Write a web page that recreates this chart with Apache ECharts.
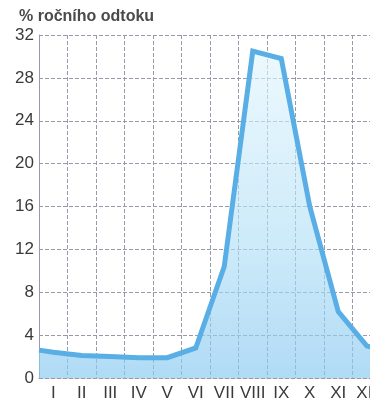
<!DOCTYPE html>
<html>
<head>
<meta charset="utf-8">
<script src="https://cdn.jsdelivr.net/npm/echarts@6/dist/echarts.min.js"></script>
<style>
html,body{margin:0;padding:0;background:#fff;overflow:hidden;width:370px;height:402px;}
#c{width:381px;height:402px;}
</style>
</head>
<body>
<div id="c"></div>
<script>
// Months (Roman numerals) and % of annual runoff
var months = ['I','II','III','IV','V','VI','VII','VIII','IX','X','XI','XII'];
var runoff = [2.4, 2.1, 2.0, 1.9, 1.9, 2.8, 10.4, 30.5, 29.8, 16.0, 6.2, 3.0];
// line values where it meets the left and right edges of the plot
var edgeLeft = 2.6;
var edgeRight = 2.6;
var yTicks = [0, 4, 8, 12, 16, 20, 24, 28, 32];
var title = '% ročního odtoku';

var pts = [[0, edgeLeft]];
for (var i = 0; i < months.length; i++) pts.push([i + 0.5, runoff[i]]);
pts.push([months.length, edgeRight]);

var chart = echarts.init(document.getElementById('c'), null, {renderer: 'canvas'});
var font = '"Liberation Sans", Arial, sans-serif';
var gridColor = '#969bab';
chart.setOption({
  animation: false,
  title: {
    text: title, left: 14, top: 4,
    textStyle: {fontFamily: font, fontSize: 16, fontWeight: 'bold', color: '#4a4a4a'}
  },
  grid: {left: 39, top: 35, right: 0, bottom: 24},
  xAxis: [{
    type: 'category', data: months, boundaryGap: true,
    axisLine: {show: true, lineStyle: {color: gridColor, type: 'dashed', width: 1}},
    axisTick: {show: false},
    axisLabel: {fontFamily: font, fontSize: 17, color: '#3a3a3a', margin: 7, interval: 0},
    splitLine: {show: true, interval: 0, lineStyle: {color: gridColor, type: 'dashed', width: 1}}
  }, {
    type: 'value', min: 0, max: months.length, show: false
  }],
  yAxis: {
    type: 'value', min: yTicks[0], max: yTicks[yTicks.length - 1], interval: 4,
    axisLine: {show: true, lineStyle: {color: gridColor, type: 'dashed', width: 1}},
    axisTick: {show: false},
    axisLabel: {fontFamily: font, fontSize: 17, color: '#3a3a3a', margin: 5},
    splitLine: {show: true, lineStyle: {color: gridColor, type: 'dashed', width: 1}}
  },
  series: [{
    type: 'line', xAxisIndex: 1, data: pts, symbol: 'none', smooth: false,
    lineStyle: {color: '#5aaee6', width: 5, join: 'miter'},
    areaStyle: {
      color: new echarts.graphic.LinearGradient(0, 0, 0, 1, [
        {offset: 0, color: 'rgba(225,245,252,0.9)'},
        {offset: 0.6, color: 'rgba(175,222,246,0.9)'},
        {offset: 1, color: 'rgba(136,200,240,0.95)'}
      ])
    },
    z: 1
  }]
});
</script>
</body>
</html>
